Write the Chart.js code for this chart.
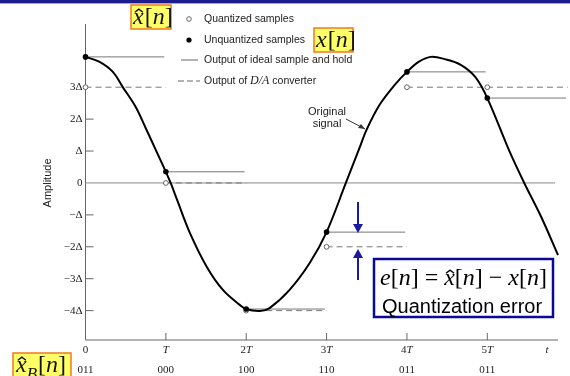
<!DOCTYPE html>
<html>
<head>
<meta charset="utf-8">
<script src="https://cdn.jsdelivr.net/npm/chart.js@4"></script>
<style>
  html, body { margin: 0; padding: 0; background: #fff; }
  #c { display: block; }
</style>
</head>
<body>
<canvas id="c" width="570" height="376"></canvas>
<script>
// sample instants (in units of T) and their values (in units of Δ)
const sampleTimes = [0, 1, 2, 3, 4, 5];
const unquantized = [3.95, 0.35, -3.95, -1.54, 3.48, 2.66];
const quantized = [3, 0, -4, -2, 3, 3];
const bitCodes = ['011', '000', '100', '110', '011', '011'];
const xTickLabels = ['0', 'T', '2T', '3T', '4T', '5T'];
const yTickValues = [3, 2, 1, 0, -1, -2, -3, -4];
const yTickLabels = ['3Δ', '2Δ', 'Δ', '0', '−Δ', '−2Δ', '−3Δ', '−4Δ'];

// original signal
const curveT = [0, 0.17, 0.34, 0.47, 0.62, 0.76, 0.89, 1.0, 1.06, 1.14, 1.30, 1.51, 1.71, 1.92, 2.0, 2.17, 2.29, 2.54, 2.79, 3.0,
  3.24, 3.41, 3.50, 3.66, 3.84, 4.0, 4.15, 4.30, 4.47, 4.67, 4.85, 5.0, 5.27, 5.46, 5.67, 5.88];
const curveV = [3.95, 3.80, 3.48, 2.98, 2.40, 1.66, 0.95, 0.35, 0.0, -0.53, -1.57, -2.63, -3.35, -3.82, -3.95, -4.01, -3.92, -3.35, -2.51, -1.54,
  0.0, 1.10, 1.68, 2.45, 3.05, 3.48, 3.80, 3.95, 3.88, 3.70, 3.32, 2.66, 1.03, 0.0, -1.06, -2.26];

const HOLD = 0.98;
const serif = '"Liberation Serif", "DejaVu Serif", serif';
const sans = '"Liberation Sans", Arial, sans-serif';

const curveData = curveT.map((t, i) => ({ x: t, y: curveV[i] }));
const holdData = [];
const daData = [];
sampleTimes.forEach((t, i) => {
  holdData.push({ x: t, y: unquantized[i] }, { x: t + HOLD, y: unquantized[i] }, { x: t + HOLD, y: null });
  daData.push({ x: t, y: quantized[i] }, { x: t + 1, y: quantized[i] });
  if (i < sampleTimes.length - 1 && quantized[i + 1] !== quantized[i]) daData.push({ x: t + 1, y: null });
});

// draws a little math string made of segments
function mathText(ctx, segs, x, base, size) {
  let cx = x;
  segs.forEach(s => {
    ctx.font = (s.it ? 'italic ' : '') + (s.size || size) + 'px ' + (s.font || serif);
    const dy = s.sub ? size * 0.28 : 0;
    ctx.fillText(s.t, cx, base + dy);
    const w = ctx.measureText(s.t).width;
    if (s.hat) {
      const mid = cx + w * 0.55;
      const top = base - size * 0.62;
      ctx.beginPath();
      ctx.lineWidth = 1.3;
      ctx.moveTo(mid - size * 0.17, top + size * 0.13);
      ctx.lineTo(mid, top);
      ctx.lineTo(mid + size * 0.17, top + size * 0.13);
      ctx.stroke();
    }
    cx += w + (s.gap || 0);
  });
  return cx;
}

function yellowBox(ctx, x, y, w, h) {
  ctx.fillStyle = '#ffff66';
  ctx.fillRect(x, y, w, h);
  ctx.strokeStyle = '#f07a20';
  ctx.lineWidth = 1.5;
  ctx.strokeRect(x, y, w, h);
}

const decor = {
  id: 'decor',
  beforeDraw(chart) {
    const ctx = chart.ctx;
    ctx.save();
    ctx.fillStyle = '#fff';
    ctx.fillRect(0, 0, chart.width, chart.height);
    ctx.fillStyle = '#1c1c8a';
    ctx.fillRect(0, 0, chart.width, 3);
    ctx.fillStyle = '#d8b400';
    ctx.fillRect(0, 3, chart.width, 1);
    ctx.restore();
  },
  beforeDatasetsDraw(chart) {
    const { ctx, chartArea: a, scales: { x, y } } = chart;
    ctx.save();
    ctx.strokeStyle = '#666';
    ctx.lineWidth = 1;
    // axes
    ctx.beginPath();
    ctx.moveTo(a.left, a.top);
    ctx.lineTo(a.left, a.bottom);
    ctx.lineTo(a.right, a.bottom);
    ctx.stroke();
    // zero line
    ctx.strokeStyle = '#888';
    const y0 = y.getPixelForValue(0);
    ctx.beginPath();
    ctx.moveTo(a.left, y0);
    ctx.lineTo(a.right - 3, y0);
    ctx.stroke();
    // y ticks & labels
    ctx.strokeStyle = '#666';
    ctx.fillStyle = '#222';
    ctx.font = '11px ' + serif;
    ctx.textAlign = 'right';
    ctx.textBaseline = 'middle';
    yTickValues.forEach((v, i) => {
      const py = y.getPixelForValue(v);
      if (v !== 0 && v !== 3) {
        ctx.beginPath();
        ctx.moveTo(a.left, py);
        ctx.lineTo(a.left + 8, py);
        ctx.stroke();
      }
      ctx.fillText(yTickLabels[i], a.left - 3, py);
    });
    // x ticks & labels
    ctx.textAlign = 'center';
    sampleTimes.forEach((t, i) => {
      const px = x.getPixelForValue(t);
      if (t !== 0) {
        ctx.beginPath();
        ctx.moveTo(px, a.bottom);
        ctx.lineTo(px, a.bottom - 7);
        ctx.stroke();
      }
      const lab = xTickLabels[i];
      ctx.font = '11px ' + serif;
      if (lab === '0') {
        ctx.fillText(lab, px, a.bottom + 10);
      } else {
        const num = lab.slice(0, -1);
        const wN = num ? ctx.measureText(num).width : 0;
        ctx.font = 'italic 11px ' + serif;
        const wT = ctx.measureText('T').width;
        const sx = px - (wN + wT) / 2;
        ctx.textAlign = 'left';
        ctx.font = '11px ' + serif;
        if (num) ctx.fillText(num, sx, a.bottom + 10);
        ctx.font = 'italic 11px ' + serif;
        ctx.fillText('T', sx + wN, a.bottom + 10);
        ctx.textAlign = 'center';
      }
      ctx.font = '11px ' + serif;
      ctx.fillText(bitCodes[i], px, a.bottom + 30);
    });
    ctx.font = 'italic 11px ' + serif;
    ctx.fillText('t', a.right - 11, a.bottom + 10);
    // axis title
    ctx.save();
    ctx.translate(48, y0);
    ctx.rotate(-Math.PI / 2);
    ctx.font = '11px ' + sans;
    ctx.fillText('Amplitude', 0, 0);
    ctx.restore();
    ctx.restore();
  },
  afterDatasetsDraw(chart) {
    const ctx = chart.ctx;
    ctx.save();
    // legend
    ctx.font = '10.5px ' + sans;
    ctx.fillStyle = '#222';
    ctx.textBaseline = 'middle';
    ctx.textAlign = 'left';
    ctx.strokeStyle = '#666';
    ctx.lineWidth = 1;
    ctx.beginPath(); ctx.arc(189, 19, 2.3, 0, Math.PI * 2); ctx.stroke();
    ctx.fillText('Quantized samples', 204, 19);
    ctx.beginPath(); ctx.arc(189, 40, 2.6, 0, Math.PI * 2); ctx.fillStyle = '#000'; ctx.fill();
    ctx.fillStyle = '#222';
    ctx.fillText('Unquantized samples', 204, 40);
    ctx.beginPath(); ctx.moveTo(181, 60); ctx.lineTo(198, 60); ctx.stroke();
    ctx.fillText('Output of ideal sample and hold', 204, 60);
    ctx.setLineDash([6, 3]);
    ctx.beginPath(); ctx.moveTo(178, 81); ctx.lineTo(200, 81); ctx.stroke();
    ctx.setLineDash([]);
    let cx = 204;
    ctx.fillText('Output of ', cx, 81); cx += ctx.measureText('Output of ').width;
    ctx.font = 'italic 12px ' + serif;
    ctx.fillText('D/A', cx, 81); cx += ctx.measureText('D/A').width;
    ctx.font = '10.5px ' + sans;
    ctx.fillText(' converter', cx, 81);
    // original signal annotation
    ctx.font = '11px ' + sans;
    ctx.textAlign = 'center';
    ctx.fillText('Original', 327, 112);
    ctx.fillText('signal', 327, 124);
    ctx.strokeStyle = '#333';
    ctx.beginPath(); ctx.moveTo(346, 119); ctx.lineTo(365, 129); ctx.stroke();
    ctx.beginPath(); ctx.moveTo(365, 129); ctx.lineTo(358, 128); ctx.lineTo(361, 124); ctx.closePath();
    ctx.fillStyle = '#333'; ctx.fill();

    // yellow labels
    ctx.textAlign = 'left';
    ctx.textBaseline = 'alphabetic';
    yellowBox(ctx, 131, 5, 40, 24);
    ctx.fillStyle = '#111'; ctx.strokeStyle = '#111';
    mathText(ctx, [{ t: 'x', it: true, hat: true, gap: 1 }, { t: '[' }, { t: 'n', it: true }, { t: ']' }], 133, 24, 24);
    yellowBox(ctx, 314, 28, 39, 24);
    ctx.fillStyle = '#111'; ctx.strokeStyle = '#111';
    mathText(ctx, [{ t: 'x', it: true, gap: 1 }, { t: '[' }, { t: 'n', it: true }, { t: ']' }], 316, 47, 24);
    yellowBox(ctx, 13, 353, 58, 26);
    ctx.fillStyle = '#111'; ctx.strokeStyle = '#111';
    mathText(ctx, [{ t: 'x', it: true, hat: true }, { t: 'B', it: true, sub: true, size: 17, gap: 1 }, { t: '[' }, { t: 'n', it: true }, { t: ']' }], 16, 372, 24);

    // quantization error arrows
    ctx.strokeStyle = '#1a1aa0'; ctx.fillStyle = '#1a1aa0'; ctx.lineWidth = 2;
    ctx.beginPath(); ctx.moveTo(358, 202); ctx.lineTo(358, 226); ctx.stroke();
    ctx.beginPath(); ctx.moveTo(353, 224); ctx.lineTo(363, 224); ctx.lineTo(358, 233); ctx.closePath(); ctx.fill();
    ctx.beginPath(); ctx.moveTo(358, 280); ctx.lineTo(358, 256); ctx.stroke();
    ctx.beginPath(); ctx.moveTo(353, 258); ctx.lineTo(363, 258); ctx.lineTo(358, 249); ctx.closePath(); ctx.fill();

    // error box
    ctx.fillStyle = '#fff';
    ctx.fillRect(374, 259, 179, 58);
    ctx.strokeStyle = '#0a0a96'; ctx.lineWidth = 2.5;
    ctx.strokeRect(374, 259, 179, 58);
    ctx.fillStyle = '#000'; ctx.strokeStyle = '#000';
    mathText(ctx, [{ t: 'e', it: true }, { t: '[' }, { t: 'n', it: true }, { t: ']' }, { t: ' = ' },
      { t: 'x', it: true, hat: true }, { t: '[' }, { t: 'n', it: true }, { t: ']' }, { t: ' − ' },
      { t: 'x', it: true }, { t: '[' }, { t: 'n', it: true }, { t: ']' }], 380, 285, 24);
    ctx.font = '20px ' + sans;
    ctx.fillText('Quantization error', 382, 313);
    ctx.restore();
  }
};

new Chart(document.getElementById('c'), {
  type: 'scatter',
  data: {
    datasets: [
      { label: 'Unquantized samples', data: sampleTimes.map((t, i) => ({ x: t, y: unquantized[i] })),
        pointRadius: 2.8, pointBackgroundColor: '#000', pointBorderColor: '#000', pointBorderWidth: 0, order: 0, clip: false },
      { label: 'Quantized samples', data: sampleTimes.map((t, i) => ({ x: t, y: quantized[i] })),
        pointRadius: 2.4, pointBackgroundColor: '#fff', pointBorderColor: '#666', pointBorderWidth: 1, order: 1, clip: false },
      { label: 'Original signal', data: curveData, showLine: true, pointRadius: 0, borderColor: '#000', borderWidth: 2,
        tension: 0.35, order: 2, clip: false },
      { label: 'Output of ideal sample and hold', data: holdData, showLine: true, pointRadius: 0, borderColor: '#777',
        borderWidth: 1, spanGaps: false, order: 3, clip: false },
      { label: 'Output of D/A converter', data: daData, showLine: true, pointRadius: 0, borderColor: '#777',
        borderWidth: 1, borderDash: [6, 4], spanGaps: false, order: 4, clip: false }
    ]
  },
  options: {
    responsive: false,
    animation: false,
    devicePixelRatio: 1,
    layout: { padding: { left: 85.5, right: 12, top: 24, bottom: 36 } },
    plugins: { legend: { display: false }, tooltip: { enabled: false } },
    scales: {
      x: { type: 'linear', min: 0, max: 5.88, display: false },
      y: { type: 'linear', min: -4.92, max: 4.98, display: false }
    }
  },
  plugins: [decor]
});
</script>
</body>
</html>
